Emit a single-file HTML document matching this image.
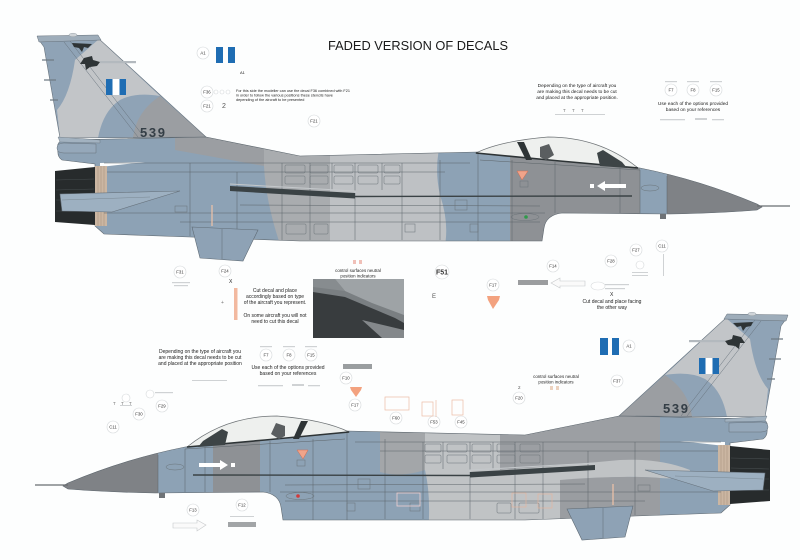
<!DOCTYPE html>
<html><head><meta charset="utf-8">
<style>
html,body{margin:0;padding:0;background:#fff;}
svg{display:block;}
text{font-family:"Liberation Sans",sans-serif;}
</style></head><body>
<svg width="800" height="560" viewBox="0 0 800 560" xmlns="http://www.w3.org/2000/svg" xmlns:xlink="http://www.w3.org/1999/xlink">
<rect width="800" height="560" fill="#fdfefe"/>
<defs>
<clipPath id="cA"><path d="M58,149 Q56,141 65,140 L206,137 L300,156 L478,152 L640,168 Q700,180 757,204 L762,207 L757,210 Q720,213 670,214 L562,213 Q546,215 544,228 L542,241 L300,241 L190,237 L104,234 L95,226 L95,164 L62,160 Q57,157 58,149 Z"/></clipPath>
<clipPath id="cB"><path transform="translate(825,279) scale(-1,1)" d="M58,149 Q56,141 65,140 L206,137 L300,156 L478,152 L640,168 Q700,180 757,204 L762,207 L757,210 Q720,213 670,214 L562,213 Q546,215 544,228 L542,241 L300,241 L190,237 L104,234 L95,226 L95,164 L62,160 Q57,157 58,149 Z"/></clipPath>
<g id="fin">
 <path d="M44,47 L39,40 L97,37 L206,137 L60,138 Z" fill="#8fa3b6"/>
 <path d="M75,60 L99,39 L160,96 Q135,92 120,100 Q103,111 98,138 L60,138 L57,110 Q70,95 75,60 Z" fill="#c2c5c8"/>
 <path d="M160,96 L206,137 L133,138 Q136,112 160,96 Z" fill="#9b9ea2"/>
 <path d="M44,47 L39,40 L97,37 L206,137 L60,138 Z" fill="none" stroke="#66717b" stroke-width="0.6"/>
 <path d="M37,36 L98,35 L101,40 L39,42 Z" fill="#9eadba" stroke="#66717b" stroke-width="0.5"/>
 <ellipse cx="73" cy="35" rx="4" ry="1.8" fill="#cfd4d8" stroke="#8a949c" stroke-width="0.4"/>
 <path d="M64,42 L138,137 M70,41 L144,137" stroke="#66717b" stroke-width="0.5"/>
 <path d="M72,43 L92,44 L88,48 L84,47 L82,52 L79,48 L74,47 Z" fill="#2e3436"/>
 <path d="M84,58 L92,56 L93,60 L100,62 L97,66 L90,67 L86,70 L85,64 L80,64 Z" fill="#2e3436"/>
 <path d="M42,60 L54,60 M44,80 L56,80 M50,100 L58,100" stroke="#6f7b85" stroke-width="1.2"/>
 <rect x="100" y="61" width="36" height="2.2" fill="#b3b9be"/>
 <rect x="106" y="79" width="20" height="16" fill="#ffffff"/>
 <rect x="106" y="79" width="6.5" height="16" fill="#1f6db3"/>
 <rect x="119.5" y="79" width="6.5" height="16" fill="#1f6db3"/>
</g>
<g id="body">
 <path d="M58,149 Q56,141 65,140 L206,137 L300,156 L478,152 L640,168 Q700,180 757,204 L762,207 L757,210 Q720,213 670,214 L562,213 Q546,215 544,228 L542,241 L300,241 L190,237 L104,234 L95,226 L95,164 L62,160 Q57,157 58,149 Z" fill="#8da2b5"/>
</g>
<g id="over">
 <path d="M58,149 Q56,141 65,140 L206,137 L300,156 L478,152 L640,168 Q700,180 757,204 L762,207 L757,210 Q720,213 670,214 L562,213 Q546,215 544,228 L542,241 L300,241 L190,237 L104,234 L95,226 L95,164 L62,160 Q57,157 58,149 Z" fill="none" stroke="#5f686f" stroke-width="0.6"/>
 <path d="M58,137 L100,140 L100,143 L60,142 Z" fill="#a2b2c0" stroke="#66717b" stroke-width="0.4"/>
 <path d="M57,148 Q57,143 64,143 L96,144 L96,153 L64,153 Q57,153 57,148 Z" fill="#95a8ba" stroke="#66717b" stroke-width="0.5"/>
 <path d="M100,163 L145,162 L100,167 Z" fill="#fdfefe"/>
 <path d="M55,171 L95,167 L95,225 L55,222 Z" fill="#272b2c"/>
 <path d="M56,180 L94,179 M56,190 L94,189 M56,200 L94,200 M56,211 L94,211" stroke="#474d4f" stroke-width="0.6"/>
 <rect x="95" y="166" width="12" height="60" fill="#cbb6a2"/>
 <path d="M98,166 L98,226 M101,166 L101,226 M104,166 L104,226" stroke="#a38f7d" stroke-width="0.5"/>
 <path d="M104,163 L470,163 M107,172 L445,172 M104,213 L545,213 M180,222 L540,222 M240,205 L540,206 M480,160 L640,170" stroke="#5b6368" stroke-width="0.5" fill="none"/>
 <path d="M190,163 L190,236 M237,172 L237,238 M282,163 L282,240 M310,163 L310,240 M332,163 L332,190 M355,163 L355,240 M382,163 L382,190 M402,163 L402,240 M440,160 L440,240 M478,153 L478,241 M512,160 L512,241 M555,162 L555,213 M620,168 L620,213 M640,170 L640,213 M667,176 L667,213" stroke="#5b6368" stroke-width="0.5" fill="none"/>
 <g fill="none" stroke="#6a7378" stroke-width="0.5">
  <rect x="285" y="165" width="20" height="8" rx="1"/><rect x="285" y="176" width="20" height="8" rx="1"/>
  <rect x="310" y="165" width="18" height="8" rx="1"/><rect x="310" y="176" width="18" height="8" rx="1"/>
  <rect x="334" y="165" width="19" height="8" rx="1"/><rect x="334" y="176" width="19" height="8" rx="1"/>
  <rect x="358" y="165" width="20" height="8" rx="1"/><rect x="358" y="176" width="20" height="8" rx="1"/>
  <rect x="384" y="165" width="16" height="8" rx="1"/><rect x="384" y="176" width="16" height="8" rx="1"/>
  <rect x="286" y="224" width="20" height="10" rx="1"/><rect x="314" y="224" width="14" height="10" rx="1"/>
  <rect x="405" y="224" width="10" height="8"/><rect x="455" y="200" width="12" height="10"/>
  <rect x="520" y="181" width="8" height="6"/><rect x="470" y="224" width="8" height="8"/>
  <ellipse cx="650" cy="188" rx="9" ry="3"/>
  <ellipse cx="525" cy="217" rx="14" ry="3.5"/>
  <rect x="175" y="206" width="12" height="6"/>
 </g>
 <path d="M230,184 L355,191 L355,193" stroke="#c4c8cb" stroke-width="1" fill="none"/>
 <path d="M230,186 L355,193 L355,198.5 L230,191 Z" fill="#3a4245"/>
 <path d="M355,196.5 L632,196" stroke="#3a4245" stroke-width="1.4"/>
 <path d="M60,194 L180,191 L112,212 L62,211 Z" fill="#9db0c1" stroke="#66717b" stroke-width="0.6"/>
 <path d="M62,200 L150,197" stroke="#7a8893" stroke-width="0.5"/>
 <path d="M192,227 L258,230 L243,261 L200,258 Z" fill="#8ea2b5" stroke="#5f6b75" stroke-width="0.6"/>
 <path d="M222,229 L222,259" stroke="#5f6b75" stroke-width="0.5"/>
 <path d="M476,153 Q500,141 548,137 Q600,137 638,168 L560,161 Z" fill="#eef0ee" stroke="#6d7275" stroke-width="0.7"/>
 <path d="M476,153 L560,161 L638,168" stroke="#2e3436" stroke-width="1.6" fill="none"/>
 <path d="M517,142 L524,142 L532,160 L526,160 Z" fill="#2e3436"/>
 <path d="M540,147 L549,144 L554,155 L546,160 L540,157 Z" fill="#5a5e60"/>
 <path d="M597,153 L603,150 L622,162 L627,168 L600,166 Z" fill="#3d4446"/>
 <path d="M757,206 L790,206" stroke="#6a6e71" stroke-width="1.2"/>
 <path d="M517,171 L528,171 L522,180 Z" fill="#f0a48a" stroke="#d06a50" stroke-width="0.5"/>
 <rect x="604" y="184" width="22" height="4" fill="#ffffff"/>
 <path d="M597,186 L605,181 L605,191 Z" fill="#ffffff"/>
 <rect x="590" y="184" width="4" height="4" fill="#ffffff"/>
 <path d="M660,214 L666,214 L666,219 L660,219 Z" fill="#6f7377"/>
 <path d="M212,205 L212,226" stroke="#f1c3a8" stroke-width="1.2"/>
</g>
</defs>

<!-- TOP AIRCRAFT -->
<use xlink:href="#fin"/>
<use xlink:href="#body"/>
<g clip-path="url(#cA)">
 <path d="M175,125 L268,125 L264,166 L175,150 Z" fill="#9b9ea2"/>
 <path d="M264,125 L330,125 L330,250 L282,250 Q266,205 264,166 Z" fill="#a9acaf"/>
 <path d="M330,125 L446,125 Q432,160 440,195 Q450,225 444,250 L330,250 Z" fill="#bec1c4"/>
 <rect x="510" y="125" width="130" height="125" fill="#8e9195"/>
 <rect x="667" y="120" width="140" height="130" fill="#7f8286"/>
</g>
<use xlink:href="#over"/>
<circle cx="526" cy="217" r="1.8" fill="#2f9a4a"/>
<text x="140" y="137" font-size="13" font-weight="bold" fill="#343e46" textLength="25">539</text>

<!-- BOTTOM AIRCRAFT -->
<g transform="translate(825,279) scale(-1,1)">
 <use xlink:href="#fin"/>
 <use xlink:href="#body"/>
</g>
<g clip-path="url(#cB)">
 <rect x="0" y="380" width="158" height="170" fill="#7f8286"/>
 <rect x="213" y="380" width="47" height="170" fill="#8e9195"/>
 <path d="M380,380 L425,380 L425,470 Q400,478 380,472 Z" fill="#a3a6a9"/>
 <path d="M425,380 L500,380 L500,545 L427,545 Q432,500 425,470 Z" fill="#c0c3c5"/>
 <path d="M500,380 L660,380 L660,462 Q600,462 560,466 Q520,470 500,470 Z" fill="#9c9fa3"/>
 <path d="M500,470 Q560,466 620,460 Q660,458 690,470 Q690,480 660,478 Q620,475 580,480 L560,545 L500,545 Z" fill="#c0c3c5"/>
 <path d="M560,480 Q620,475 660,478 L660,545 L560,545 Z" fill="#9a9da1"/>
</g>
<g transform="translate(825,279) scale(-1,1)">
 <use xlink:href="#over"/>
</g>
<circle cx="298" cy="496" r="1.8" fill="#d23a3a"/>
<rect x="397" y="493" width="23" height="13" fill="none" stroke="#f0d0d0" stroke-width="0.8"/>
<rect x="512" y="493" width="14" height="14" fill="none" stroke="#e8b49a" stroke-width="0.6"/>
<rect x="538" y="494" width="14" height="14" fill="none" stroke="#e8b49a" stroke-width="0.6"/>
<text x="663" y="413" font-size="13" font-weight="bold" fill="#343e46" textLength="25">539</text>

<!-- TITLE -->
<text x="328" y="50" font-size="13" fill="#1a1a1a" textLength="180" lengthAdjust="spacingAndGlyphs">FADED VERSION OF DECALS</text>

<!-- FLAGS -->
<rect x="216" y="47" width="7" height="16" fill="#1f6db3"/>
<rect x="228" y="47" width="7" height="16" fill="#1f6db3"/>
<rect x="600" y="338" width="8" height="17" fill="#1f6db3"/>
<rect x="612" y="338" width="7" height="17" fill="#1f6db3"/>

<!-- LABEL CIRCLES -->
<g font-size="4.3" fill="#333" text-anchor="middle">
 <g fill="#fff" stroke="#d5d9db" stroke-width="0.6">
  <circle cx="203" cy="53" r="6"/><circle cx="207" cy="92" r="6"/><circle cx="207" cy="106" r="6"/><circle cx="314" cy="121" r="6"/>
  <circle cx="671" cy="90" r="6"/><circle cx="693" cy="90" r="6"/><circle cx="716" cy="90" r="6"/>
  <circle cx="180" cy="272" r="6"/><circle cx="225" cy="271" r="6"/><circle cx="442" cy="272" r="7"/>
  <circle cx="493" cy="285" r="6"/><circle cx="553" cy="266" r="6"/><circle cx="611" cy="261" r="6"/>
  <circle cx="636" cy="250" r="6"/><circle cx="662" cy="246" r="6"/><circle cx="629" cy="346" r="6"/>
  <circle cx="617" cy="381" r="6"/><circle cx="519" cy="398" r="6"/>
  <circle cx="266" cy="355" r="6"/><circle cx="289" cy="355" r="6"/><circle cx="311" cy="355" r="6"/>
  <circle cx="346" cy="378" r="6"/><circle cx="355" cy="405" r="6"/><circle cx="396" cy="418" r="6"/>
  <circle cx="434" cy="422" r="6"/><circle cx="461" cy="422" r="6"/>
  <circle cx="162" cy="406" r="6"/><circle cx="139" cy="414" r="6"/><circle cx="113" cy="427" r="6"/>
  <circle cx="193" cy="510" r="6"/><circle cx="242" cy="505" r="6"/>
  <circle cx="126" cy="398" r="4"/><circle cx="150" cy="394" r="4"/><circle cx="640" cy="265" r="4"/>
  <circle cx="216" cy="92" r="2"/><circle cx="222" cy="92" r="2"/><circle cx="228" cy="92" r="2"/>
 </g>
 <text x="203" y="54.6">A1</text><text x="207" y="93.6">F36</text><text x="207" y="107.6">F21</text><text x="314" y="122.6">F21</text>
 <text x="671" y="91.6">F7</text><text x="693" y="91.6">F8</text><text x="716" y="91.6">F15</text>
 <text x="180" y="273.6">F31</text><text x="225" y="272.6">F24</text>
 <text x="442" y="274.5" font-size="7" font-weight="bold">F51</text>
 <text x="493" y="286.6">F17</text><text x="553" y="267.6">F14</text><text x="611" y="262.6">F28</text>
 <text x="636" y="251.6">F27</text><text x="662" y="247.6">C11</text><text x="629" y="347.6">A1</text>
 <text x="617" y="382.6">F37</text><text x="519" y="399.6">F20</text>
 <text x="266" y="356.6">F7</text><text x="289" y="356.6">F8</text><text x="311" y="356.6">F15</text>
 <text x="346" y="379.6">F10</text><text x="355" y="406.6">F17</text><text x="396" y="419.6">F60</text>
 <text x="434" y="423.6">F53</text><text x="461" y="423.6">F45</text>
 <text x="162" y="407.6">F29</text><text x="139" y="415.6">F30</text><text x="113" y="428.6">C11</text>
 <text x="193" y="511.6">F13</text><text x="242" y="506.6">F12</text>
</g>

<!-- NOTES -->
<g fill="#222">
 <text x="240" y="74" font-size="4">A1</text>
 <text x="222" y="108" font-size="7" fill="#555">2</text>
 <g font-size="3.8">
  <text x="236" y="92">For this side the modeller can use the decal F36 combined with F21</text>
  <text x="236" y="96.5">in order to follow the various positions these stencils have</text>
  <text x="236" y="101">depending of the aircraft to be presented</text>
 </g>
 <g font-size="4.8" text-anchor="middle">
  <text x="577" y="87">Depending on the type of aircraft you</text>
  <text x="577" y="93">are making this decal needs  to be cut</text>
  <text x="577" y="99">and placed at the appropriate position.</text>
  <text x="693" y="105">Use each of the options provided</text>
  <text x="693" y="111">based on your references</text>
 </g>
 <g font-size="5" text-anchor="middle">
  <text x="275" y="292">Cut decal and place</text>
  <text x="275" y="298">accordingly based on type</text>
  <text x="275" y="304">of the aircraft you represent.</text>
  <text x="275" y="317">On some aircraft you will not</text>
  <text x="275" y="323">need to cut this decal</text>
  <text x="612" y="303">Cut decal and place facing</text>
  <text x="612" y="309">the other way</text>
  <text x="200" y="353">Depending on the type of aircraft you</text>
  <text x="200" y="359">are making this decal needs  to be cut</text>
  <text x="200" y="365">and placed at the appropriate position</text>
  <text x="288" y="369">Use each of the options provided</text>
  <text x="288" y="375">based on your references</text>
 </g>
 <g font-size="4.4" text-anchor="middle">
  <text x="358" y="272">control surfaces neutral</text>
  <text x="358" y="277.5">position indicators</text>
  <text x="556" y="378">control surfaces neutral</text>
  <text x="556" y="383.5">position indicators</text>
 </g>
 <text x="229" y="283" font-size="5">X</text>
 <text x="610" y="296" font-size="5">X</text>
 <text x="432" y="298" font-size="6" fill="#555">E</text>
 <text x="518" y="389" font-size="4.5" fill="#555">2</text>
 <text x="221" y="304" font-size="5" fill="#777">+</text>
</g>

<!-- small stencils -->
<g fill="#777" font-size="4.5">
 <text x="563" y="112">T</text><text x="572" y="112">T</text><text x="581" y="112">T</text>
 <text x="113" y="405">T</text><text x="121" y="405">T</text><text x="129" y="405">T</text>
</g>
<g fill="#cfd2d4">
 <rect x="555" y="114" width="50" height="1"/>
 <rect x="665" y="81" width="12" height="1.2"/><rect x="687" y="81" width="12" height="1.2"/><rect x="710" y="81" width="12" height="1.2"/>
 <rect x="660" y="119" width="25" height="1.3"/><rect x="695" y="118" width="12" height="2"/><rect x="712" y="119" width="12" height="1.3"/>
 <rect x="260" y="346" width="12" height="1.2"/><rect x="283" y="346" width="12" height="1.2"/><rect x="305" y="346" width="12" height="1.2"/>
 <rect x="258" y="385" width="25" height="1.3"/><rect x="292" y="384" width="12" height="2"/><rect x="308" y="385" width="12" height="1.3"/>
 <rect x="172" y="282" width="18" height="1.2"/><rect x="174" y="285" width="14" height="1.2"/>
 <rect x="155" y="392" width="18" height="1.2"/><rect x="120" y="405" width="12" height="1"/>
 <rect x="192" y="380" width="35" height="1"/>
 <rect x="632" y="272" width="16" height="1"/><rect x="632" y="275" width="16" height="1"/>
 <rect x="663" y="254" width="1" height="22"/>
 <rect x="605" y="284" width="24" height="1.2"/><rect x="605" y="288" width="20" height="1.2"/>
 <rect x="230" y="516" width="24" height="1"/>
</g>

<!-- orange / colored decals -->
<rect x="234" y="288" width="3.5" height="32" fill="#f2b9a0"/>
<path d="M487,296 L500,296 L499,300 L493,309 L488,300 Z" fill="#f3a27f"/>
<path d="M350,387 L362,387 L361,390 L356,397 L351,390 Z" fill="#f3a27f"/>
<rect x="353" y="260" width="3" height="4" fill="#f0c0b8"/><rect x="359" y="260" width="3" height="4" fill="#f0c0b8"/>
<rect x="550" y="386" width="3" height="4" fill="#ecd2bf"/><rect x="556" y="386" width="3" height="4" fill="#ecd2bf"/>
<rect x="385" y="397" width="24" height="13" fill="none" stroke="#ebbca5" stroke-width="0.7"/>
<rect x="422" y="402" width="11" height="14" fill="none" stroke="#ebbca5" stroke-width="0.7"/>
<path d="M436,400 L436,417" stroke="#ebbca5" stroke-width="0.7"/>
<rect x="452" y="400" width="11" height="15" fill="none" stroke="#ebbca5" stroke-width="0.7"/>

<!-- gray bars & arrows -->
<rect x="343" y="364" width="29" height="5" fill="#9a9ea0"/>
<rect x="518" y="280" width="30" height="5" fill="#9b9d9f"/>
<path d="M551,283 L560,278 L560,281 L585,281 L585,286 L560,286 L560,288 Z" fill="#fafafa" stroke="#c6c9cb" stroke-width="0.6"/>
<rect x="228" y="522" width="28" height="5" fill="#a2a5a7"/>
<path d="M206,525 L197,520 L197,523 L173,523 L173,528 L197,528 L197,531 Z" fill="#fafafa" stroke="#c6c9cb" stroke-width="0.6"/>
<ellipse cx="598" cy="286" rx="7" ry="4" fill="#fff" stroke="#d8dbdd" stroke-width="0.6"/>

<!-- photo -->
<g>
 <rect x="313" y="279" width="91" height="59" fill="#7a7f82"/>
 <path d="M335,279 L404,279 L404,315 L372,303 L345,291 Z" fill="#9ea3a6"/>
 <path d="M313,292 L345,297 L395,318 L404,323 L404,338 L313,338 Z" fill="#383c3e"/>
 <path d="M313,279 L335,279 L345,291 L313,287 Z" fill="#878c8f"/>
 <path d="M362,320 L404,330 L404,338 L382,338 Z" fill="#84888b"/>
</g>
</svg>
</body></html>
